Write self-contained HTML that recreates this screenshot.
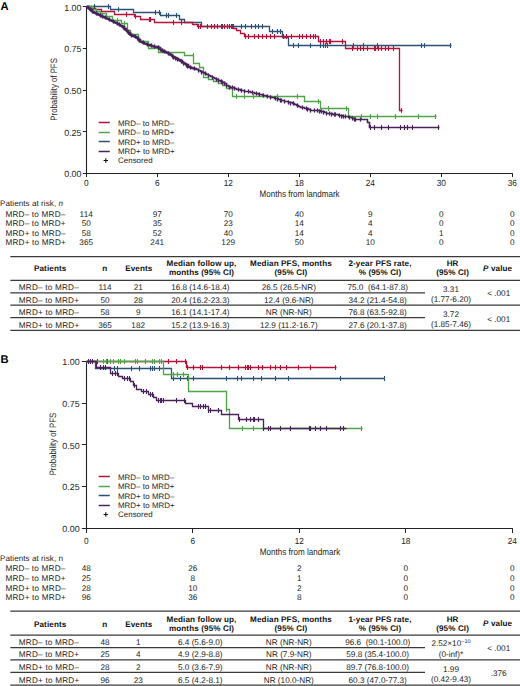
<!DOCTYPE html>
<html><head><meta charset="utf-8"><style>
html,body{margin:0;padding:0;background:#fff;width:520px;height:686px;overflow:hidden}
svg{display:block;text-rendering:geometricPrecision}
text{font-family:"Liberation Sans",sans-serif;fill:#1e1e1e}
.lbl{font-size:11.2px;font-weight:bold;fill:#000}
.tk{font-size:8.9px}
.ax{font-size:9.3px}
.lg{font-size:7.9px;letter-spacing:0.05px}
.rkh{font-size:8.1px;letter-spacing:0.05px}
.rk{font-size:8.2px;letter-spacing:0.2px}
.rkn{font-size:8.2px;letter-spacing:0.1px}
.th{font-size:8.1px;font-weight:bold;letter-spacing:0.12px;fill:#111}
.td{font-size:8.2px;letter-spacing:0.2px}
.tdn{font-size:8.2px;letter-spacing:0px}
</style></head><body>
<svg width="520" height="686" viewBox="0 0 520 686">
<text x="0.6" y="9.6" class="lbl">A</text>
<text x="81.5" y="177.2" class="tk" text-anchor="end">0.00</text><path d="M82.8 173.5H86.5" stroke="#222" stroke-width="1"/><text x="81.5" y="135.5" class="tk" text-anchor="end">0.25</text><path d="M82.8 131.5H86.5" stroke="#222" stroke-width="1"/><text x="81.5" y="93.8" class="tk" text-anchor="end">0.50</text><path d="M82.8 90.5H86.5" stroke="#222" stroke-width="1"/><text x="81.5" y="52.2" class="tk" text-anchor="end">0.75</text><path d="M82.8 48.5H86.5" stroke="#222" stroke-width="1"/><text x="81.5" y="10.5" class="tk" text-anchor="end">1.00</text><path d="M82.8 6.5H86.5" stroke="#222" stroke-width="1"/><path d="M86.5 6.0V174.0" stroke="#222" stroke-width="1.1"/>
<path d="M86 173.5H512.8" stroke="#222" stroke-width="1.1"/><path d="M86.5 173.5V177.1" stroke="#222" stroke-width="1"/><text x="86.3" y="186.3" class="tk" text-anchor="middle" textLength="4.6" lengthAdjust="spacingAndGlyphs">0</text><path d="M157.5 173.5V177.1" stroke="#222" stroke-width="1"/><text x="157.3" y="186.3" class="tk" text-anchor="middle" textLength="4.6" lengthAdjust="spacingAndGlyphs">6</text><path d="M228.5 173.5V177.1" stroke="#222" stroke-width="1"/><text x="228.3" y="186.3" class="tk" text-anchor="middle" textLength="9.2" lengthAdjust="spacingAndGlyphs">12</text><path d="M299.5 173.5V177.1" stroke="#222" stroke-width="1"/><text x="299.3" y="186.3" class="tk" text-anchor="middle" textLength="9.2" lengthAdjust="spacingAndGlyphs">18</text><path d="M370.5 173.5V177.1" stroke="#222" stroke-width="1"/><text x="370.3" y="186.3" class="tk" text-anchor="middle" textLength="9.2" lengthAdjust="spacingAndGlyphs">24</text><path d="M441.5 173.5V177.1" stroke="#222" stroke-width="1"/><text x="441.3" y="186.3" class="tk" text-anchor="middle" textLength="9.2" lengthAdjust="spacingAndGlyphs">30</text><path d="M512.5 173.5V177.1" stroke="#222" stroke-width="1"/><text x="512.3" y="186.3" class="tk" text-anchor="middle" textLength="9.2" lengthAdjust="spacingAndGlyphs">36</text>
<text class="ax" transform="translate(57.2,89.4) rotate(-90)" text-anchor="middle" textLength="62.5" lengthAdjust="spacingAndGlyphs">Probability of PFS</text>
<text class="ax" x="299.6" y="196.5" text-anchor="middle" textLength="80" lengthAdjust="spacingAndGlyphs">Months from landmark</text>
<path d="M98.7 122.5H109.8" stroke="#b3123a" stroke-width="1.5"/><text x="118" y="125.8" class="lg">MRD– to MRD–</text><path d="M98.7 132.5H109.8" stroke="#4ea548" stroke-width="1.5"/><text x="118" y="135.2" class="lg">MRD– to MRD+</text><path d="M98.7 141.5H109.8" stroke="#2b5274" stroke-width="1.5"/><text x="118" y="144.6" class="lg">MRD+ to MRD–</text><path d="M98.7 151.5H109.8" stroke="#48235a" stroke-width="1.5"/><text x="118" y="154.0" class="lg">MRD+ to MRD+</text><path d="M103.6 160.5H108 M105.8 158.3V162.7" stroke="#111" stroke-width="1.1"/><text x="118" y="163.4" class="lg">Censored</text>
<polyline points="86.5,6.5 110.5,6.5 110.5,9.5 133.5,9.5 133.5,12.5 160.5,12.5 160.5,15.5 179.5,15.5 179.5,19.5 184.5,19.5 184.5,22.5 201.5,22.5 201.5,26.5 269.5,26.5 269.5,31.5 282.5,31.5 282.5,37.5 288.5,37.5 288.5,45.5 451.5,45.5 451.5,45.5" fill="none" stroke="#2b5274" stroke-width="1.3"/>
<path d="M94.5 4.1V8.9M108.5 4.1V8.9" stroke="#2b5274" stroke-width="1.1" fill="none"/><path d="M118.5 7.1V11.9" stroke="#2b5274" stroke-width="1.1" fill="none"/><path d="M155.5 10.1V14.9M159.5 10.1V14.9" stroke="#2b5274" stroke-width="1.1" fill="none"/><path d="M166.5 13.1V17.9M168.5 13.1V17.9M176.5 13.1V17.9" stroke="#2b5274" stroke-width="1.1" fill="none"/><path d="M222.5 24.1V28.9M232.5 24.1V28.9" stroke="#2b5274" stroke-width="1.1" fill="none"/><path d="M233.5 24.1V28.9M241.5 24.1V28.9M245.5 24.1V28.9M251.5 24.1V28.9M255.5 24.1V28.9M258.5 24.1V28.9M262.5 24.1V28.9" stroke="#2b5274" stroke-width="1.1" fill="none"/><path d="M272.5 29.1V33.9M277.5 29.1V33.9M280.5 29.1V33.9" stroke="#2b5274" stroke-width="1.1" fill="none"/><path d="M293.5 43.1V47.9M298.5 43.1V47.9M310.5 43.1V47.9M320.5 43.1V47.9M323.5 43.1V47.9M325.5 43.1V47.9M327.5 43.1V47.9M353.5 43.1V47.9M363.5 43.1V47.9M377.5 43.1V47.9M421.5 43.1V47.9M424.5 43.1V47.9M450.5 43.1V47.9" stroke="#2b5274" stroke-width="1.1" fill="none"/>
<polyline points="86.5,6.5 89.5,6.5 89.5,8.5 95.5,8.5 95.5,9.5 101.5,9.5 101.5,11.5 114.5,11.5 114.5,14.5 134.5,14.5 134.5,16.5 140.5,16.5 140.5,19.5 154.5,19.5 154.5,22.5 192.5,22.5 192.5,24.5 197.5,24.5 197.5,26.5 233.5,26.5 233.5,28.5 236.5,28.5 236.5,30.5 240.5,30.5 240.5,33.5 244.5,33.5 244.5,36.5 318.5,36.5 318.5,41.5 345.5,41.5 345.5,48.5 399.5,48.5 399.5,110.5 402.5,110.5 402.5,110.5" fill="none" stroke="#b3123a" stroke-width="1.3"/>
<path d="M126.5 12.1V16.9" stroke="#b3123a" stroke-width="1.1" fill="none"/><path d="M135.5 14.1V18.9" stroke="#b3123a" stroke-width="1.1" fill="none"/><path d="M149.5 17.1V21.9M150.5 17.1V21.9" stroke="#b3123a" stroke-width="1.1" fill="none"/><path d="M173.5 20.1V24.9M181.5 20.1V24.9" stroke="#b3123a" stroke-width="1.1" fill="none"/><path d="M198.5 24.1V28.9M200.5 24.1V28.9M207.5 24.1V28.9M211.5 24.1V28.9M214.5 24.1V28.9M217.5 24.1V28.9M221.5 24.1V28.9M224.5 24.1V28.9M227.5 24.1V28.9M229.5 24.1V28.9M231.5 24.1V28.9" stroke="#b3123a" stroke-width="1.1" fill="none"/><path d="M245.5 34.1V38.9M248.5 34.1V38.9M254.5 34.1V38.9M258.5 34.1V38.9M262.5 34.1V38.9M266.5 34.1V38.9M270.5 34.1V38.9M274.5 34.1V38.9M283.5 34.1V38.9M286.5 34.1V38.9M291.5 34.1V38.9M299.5 34.1V38.9M302.5 34.1V38.9M306.5 34.1V38.9M310.5 34.1V38.9M313.5 34.1V38.9M315.5 34.1V38.9" stroke="#b3123a" stroke-width="1.1" fill="none"/><path d="M320.5 39.1V43.9M323.5 39.1V43.9M326.5 39.1V43.9M329.5 39.1V43.9M330.5 39.1V43.9M342.5 39.1V43.9" stroke="#b3123a" stroke-width="1.1" fill="none"/><path d="M352.5 46.1V50.9M357.5 46.1V50.9M360.5 46.1V50.9M363.5 46.1V50.9M367.5 46.1V50.9M374.5 46.1V50.9M375.5 46.1V50.9M378.5 46.1V50.9M381.5 46.1V50.9M385.5 46.1V50.9M388.5 46.1V50.9M393.5 46.1V50.9" stroke="#b3123a" stroke-width="1.1" fill="none"/><path d="M401.5 108.1V112.9" stroke="#b3123a" stroke-width="1.1" fill="none"/>
<polyline points="86.5,6.5 92.5,6.5 92.5,9.5 96.5,9.5 96.5,11.5 100.5,11.5 100.5,13.5 106.5,13.5 106.5,16.5 112.5,16.5 112.5,20.5 121.5,20.5 121.5,23.5 127.5,23.5 127.5,30.5 130.5,30.5 130.5,34.5 138.5,34.5 138.5,41.5 148.5,41.5 148.5,48.5 158.5,48.5 158.5,52.5 184.5,52.5 184.5,55.5 193.5,55.5 193.5,63.5 199.5,63.5 199.5,67.5 203.5,67.5 203.5,77.5 208.5,77.5 208.5,79.5 213.5,79.5 213.5,81.5 218.5,81.5 218.5,83.5 222.5,83.5 222.5,85.5 226.5,85.5 226.5,88.5 232.5,88.5 232.5,96.5 304.5,96.5 304.5,101.5 320.5,101.5 320.5,108.5 348.5,108.5 348.5,116.5 436.5,116.5 436.5,116.5" fill="none" stroke="#4ea548" stroke-width="1.3"/>
<path d="M117.5 18.1V22.9" stroke="#4ea548" stroke-width="1.1" fill="none"/><path d="M124.5 21.1V25.9" stroke="#4ea548" stroke-width="1.1" fill="none"/><path d="M193.5 53.1V57.9" stroke="#4ea548" stroke-width="1.1" fill="none"/><path d="M236.5 94.1V98.9M244.5 94.1V98.9M253.5 94.1V98.9M277.5 94.1V98.9M297.5 94.1V98.9" stroke="#4ea548" stroke-width="1.1" fill="none"/><path d="M318.5 99.1V103.9" stroke="#4ea548" stroke-width="1.1" fill="none"/><path d="M328.5 106.1V110.9M346.5 106.1V110.9" stroke="#4ea548" stroke-width="1.1" fill="none"/><path d="M361.5 114.1V118.9M370.5 114.1V118.9M377.5 114.1V118.9M395.5 114.1V118.9M418.5 114.1V118.9M435.5 114.1V118.9" stroke="#4ea548" stroke-width="1.1" fill="none"/>
<polyline points="86.5,6.5 88.5,6.5 88.5,8.5 90.5,8.5 90.5,9.5 92.5,9.5 92.5,11.5 94.5,11.5 94.5,12.5 96.5,12.5 96.5,13.5 98.5,13.5 98.5,14.5 100.5,14.5 100.5,15.5 102.5,15.5 102.5,16.5 104.5,16.5 104.5,17.5 106.5,17.5 106.5,18.5 108.5,18.5 108.5,19.5 110.5,19.5 110.5,20.5 112.5,20.5 112.5,21.5 114.5,21.5 114.5,22.5 116.5,22.5 116.5,23.5 118.5,23.5 118.5,24.5 120.5,24.5 120.5,25.5 122.5,25.5 122.5,26.5 124.5,26.5 124.5,28.5 126.5,28.5 126.5,30.5 128.5,30.5 128.5,32.5 130.5,32.5 130.5,34.5 132.5,34.5 132.5,35.5 134.5,35.5 134.5,36.5 136.5,36.5 136.5,37.5 138.5,37.5 138.5,39.5 140.5,39.5 140.5,41.5 142.5,41.5 142.5,42.5 144.5,42.5 144.5,43.5 146.5,43.5 146.5,44.5 148.5,44.5 148.5,44.5 150.5,44.5 150.5,45.5 152.5,45.5 152.5,46.5 154.5,46.5 154.5,46.5 156.5,46.5 156.5,46.5 158.5,46.5 158.5,47.5 160.5,47.5 160.5,49.5 162.5,49.5 162.5,50.5 164.5,50.5 164.5,51.5 166.5,51.5 166.5,52.5 168.5,52.5 168.5,53.5 170.5,53.5 170.5,54.5 172.5,54.5 172.5,56.5 174.5,56.5 174.5,57.5 176.5,57.5 176.5,58.5 178.5,58.5 178.5,59.5 180.5,59.5 180.5,60.5 182.5,60.5 182.5,62.5 184.5,62.5 184.5,63.5 186.5,63.5 186.5,64.5 188.5,64.5 188.5,66.5 190.5,66.5 190.5,67.5 192.5,67.5 192.5,68.5 194.5,68.5 194.5,68.5 196.5,68.5 196.5,69.5 198.5,69.5 198.5,70.5 200.5,70.5 200.5,71.5 202.5,71.5 202.5,72.5 204.5,72.5 204.5,73.5 206.5,73.5 206.5,74.5 208.5,74.5 208.5,75.5 210.5,75.5 210.5,76.5 212.5,76.5 212.5,77.5 214.5,77.5 214.5,78.5 216.5,78.5 216.5,79.5 218.5,79.5 218.5,80.5 220.5,80.5 220.5,81.5 222.5,81.5 222.5,82.5 224.5,82.5 224.5,83.5 226.5,83.5 226.5,85.5 228.5,85.5 228.5,86.5 230.5,86.5 230.5,87.5 232.5,87.5 232.5,87.5 234.5,87.5 234.5,88.5 236.5,88.5 236.5,89.5 238.5,89.5 238.5,89.5 240.5,89.5 240.5,90.5 242.5,90.5 242.5,90.5 244.5,90.5 244.5,91.5 246.5,91.5 246.5,91.5 248.5,91.5 248.5,91.5 250.5,91.5 250.5,92.5 252.5,92.5 252.5,92.5 254.5,92.5 254.5,93.5 256.5,93.5 256.5,93.5 258.5,93.5 258.5,94.5 260.5,94.5 260.5,94.5 262.5,94.5 262.5,95.5 264.5,95.5 264.5,95.5 266.5,95.5 266.5,96.5 268.5,96.5 268.5,96.5 270.5,96.5 270.5,97.5 272.5,97.5 272.5,97.5 274.5,97.5 274.5,98.5 276.5,98.5 276.5,98.5 278.5,98.5 278.5,99.5 280.5,99.5 280.5,100.5 282.5,100.5 282.5,100.5 284.5,100.5 284.5,101.5 286.5,101.5 286.5,101.5 288.5,101.5 288.5,102.5 290.5,102.5 290.5,102.5 292.5,102.5 292.5,103.5 294.5,103.5 294.5,104.5 296.5,104.5 296.5,105.5 298.5,105.5 298.5,106.5 300.5,106.5 300.5,107.5 302.5,107.5 302.5,107.5 304.5,107.5 304.5,108.5 306.5,108.5 306.5,108.5 308.5,108.5 308.5,109.5 310.5,109.5 310.5,110.5 312.5,110.5 312.5,110.5 314.5,110.5 314.5,110.5 316.5,110.5 316.5,110.5 318.5,110.5 318.5,110.5 320.5,110.5 320.5,111.5 322.5,111.5 322.5,111.5 324.5,111.5 324.5,112.5 326.5,112.5 326.5,113.5 328.5,113.5 328.5,113.5 330.5,113.5 330.5,113.5 332.5,113.5 332.5,114.5 334.5,114.5 334.5,114.5 336.5,114.5 336.5,114.5 338.5,114.5 338.5,115.5 340.5,115.5 340.5,115.5 342.5,115.5 342.5,116.5 344.5,116.5 344.5,116.5 346.5,116.5 346.5,116.5 348.5,116.5 348.5,117.5 350.5,117.5 350.5,117.5 352.5,117.5 352.5,118.5 354.5,118.5 354.5,119.5 354.5,119.5 354.5,119.5 367.5,119.5 367.5,122.5 369.5,122.5 369.5,127.5 439.5,127.5" fill="none" stroke="#48235a" stroke-width="1.6"/>
<polyline points="86.3,6.9 88.0,8.0 93.2,12.3 100.0,15.5 107.0,18.5 113.0,21.5 119.4,24.6 125.0,29.0 130.0,34.7 136.9,37.7 141.5,42.3 147.3,44.6 153.0,46.3 158.8,47.5 161.2,50.4 167.0,52.7 171.5,55.6 176.2,58.5 181.9,61.9 185.4,64.2 188.5,66.9 196.2,69.2" fill="none" stroke="#48235a" stroke-width="2.2" stroke-linejoin="round"/>
<path d="M90.5 7.4V11.6" stroke="#48235a" stroke-width="1.3" fill="none"/><path d="M92.5 9.4V13.6" stroke="#48235a" stroke-width="1.3" fill="none"/><path d="M96.5 11.4V15.6" stroke="#48235a" stroke-width="1.3" fill="none"/><path d="M100.5 13.4V17.6" stroke="#48235a" stroke-width="1.3" fill="none"/><path d="M102.5 14.4V18.6" stroke="#48235a" stroke-width="1.3" fill="none"/><path d="M105.5 15.4V19.6" stroke="#48235a" stroke-width="1.3" fill="none"/><path d="M109.5 17.4V21.6" stroke="#48235a" stroke-width="1.3" fill="none"/><path d="M113.5 19.4V23.6" stroke="#48235a" stroke-width="1.3" fill="none"/><path d="M117.5 21.4V25.6" stroke="#48235a" stroke-width="1.3" fill="none"/><path d="M119.5 22.4V26.6" stroke="#48235a" stroke-width="1.3" fill="none"/><path d="M123.5 25.4V29.6" stroke="#48235a" stroke-width="1.3" fill="none"/><path d="M124.5 26.4V30.6" stroke="#48235a" stroke-width="1.3" fill="none"/><path d="M128.5 30.4V34.6" stroke="#48235a" stroke-width="1.3" fill="none"/><path d="M131.5 33.4V37.6" stroke="#48235a" stroke-width="1.3" fill="none"/><path d="M135.5 34.4V38.6" stroke="#48235a" stroke-width="1.3" fill="none"/><path d="M137.5 36.4V40.6" stroke="#48235a" stroke-width="1.3" fill="none"/><path d="M139.5 38.4V42.6" stroke="#48235a" stroke-width="1.3" fill="none"/><path d="M143.5 40.4V44.6" stroke="#48235a" stroke-width="1.3" fill="none"/><path d="M147.5 42.4V46.6" stroke="#48235a" stroke-width="1.3" fill="none"/><path d="M151.5 43.4V47.6" stroke="#48235a" stroke-width="1.3" fill="none"/><path d="M154.5 44.4V48.6" stroke="#48235a" stroke-width="1.3" fill="none"/><path d="M158.5 45.4V49.6" stroke="#48235a" stroke-width="1.3" fill="none"/><path d="M160.5 47.4V51.6" stroke="#48235a" stroke-width="1.3" fill="none"/><path d="M162.5 48.4V52.6" stroke="#48235a" stroke-width="1.3" fill="none"/><path d="M164.5 49.4V53.6" stroke="#48235a" stroke-width="1.3" fill="none"/><path d="M168.5 51.4V55.6" stroke="#48235a" stroke-width="1.3" fill="none"/><path d="M172.5 54.4V58.6" stroke="#48235a" stroke-width="1.3" fill="none"/><path d="M173.5 55.4V59.6" stroke="#48235a" stroke-width="1.3" fill="none"/><path d="M175.5 56.4V60.6" stroke="#48235a" stroke-width="1.3" fill="none"/><path d="M177.5 57.4V61.6" stroke="#48235a" stroke-width="1.3" fill="none"/><path d="M181.5 59.4V63.6" stroke="#48235a" stroke-width="1.3" fill="none"/><path d="M183.5 61.4V65.6" stroke="#48235a" stroke-width="1.3" fill="none"/><path d="M186.5 63.4V67.6" stroke="#48235a" stroke-width="1.3" fill="none"/><path d="M187.5 64.4V68.6" stroke="#48235a" stroke-width="1.3" fill="none"/><path d="M190.5 65.4V69.6" stroke="#48235a" stroke-width="1.3" fill="none"/><path d="M194.5 66.4V70.6" stroke="#48235a" stroke-width="1.3" fill="none"/><path d="M198.5 68.4V72.6" stroke="#48235a" stroke-width="1.3" fill="none"/><path d="M201.5 70.4V74.6" stroke="#48235a" stroke-width="1.3" fill="none"/><path d="M205.5 71.4V75.6" stroke="#48235a" stroke-width="1.3" fill="none"/><path d="M208.5 73.4V77.6" stroke="#48235a" stroke-width="1.3" fill="none"/><path d="M212.5 75.4V79.6" stroke="#48235a" stroke-width="1.3" fill="none"/><path d="M216.5 77.4V81.6" stroke="#48235a" stroke-width="1.3" fill="none"/><path d="M218.5 78.4V82.6" stroke="#48235a" stroke-width="1.3" fill="none"/><path d="M221.5 79.4V83.6" stroke="#48235a" stroke-width="1.3" fill="none"/><path d="M222.5 80.4V84.6" stroke="#48235a" stroke-width="1.3" fill="none"/><path d="M224.5 81.4V85.6" stroke="#48235a" stroke-width="1.3" fill="none"/><path d="M226.5 83.4V87.6" stroke="#48235a" stroke-width="1.3" fill="none"/><path d="M229.5 85.4V89.6" stroke="#48235a" stroke-width="1.3" fill="none"/><path d="M232.5 85.4V89.6" stroke="#48235a" stroke-width="1.3" fill="none"/><path d="M234.5 86.4V90.6" stroke="#48235a" stroke-width="1.3" fill="none"/><path d="M238.5 87.4V91.6" stroke="#48235a" stroke-width="1.3" fill="none"/><path d="M241.5 88.4V92.6" stroke="#48235a" stroke-width="1.3" fill="none"/><path d="M244.5 89.4V93.6" stroke="#48235a" stroke-width="1.3" fill="none"/><path d="M248.5 89.4V93.6" stroke="#48235a" stroke-width="1.3" fill="none"/><path d="M252.5 90.4V94.6" stroke="#48235a" stroke-width="1.3" fill="none"/><path d="M256.5 91.4V95.6" stroke="#48235a" stroke-width="1.3" fill="none"/><path d="M259.5 92.4V96.6" stroke="#48235a" stroke-width="1.3" fill="none"/><path d="M263.5 93.4V97.6" stroke="#48235a" stroke-width="1.3" fill="none"/><path d="M267.5 94.4V98.6" stroke="#48235a" stroke-width="1.3" fill="none"/><path d="M270.5 95.4V99.6" stroke="#48235a" stroke-width="1.3" fill="none"/><path d="M275.5 96.4V100.6" stroke="#48235a" stroke-width="1.3" fill="none"/><path d="M277.5 97.4V101.6" stroke="#48235a" stroke-width="1.3" fill="none"/><path d="M280.5 98.4V102.6" stroke="#48235a" stroke-width="1.3" fill="none"/><path d="M281.5 98.4V102.6" stroke="#48235a" stroke-width="1.3" fill="none"/><path d="M284.5 99.4V103.6" stroke="#48235a" stroke-width="1.3" fill="none"/><path d="M288.5 100.4V104.6" stroke="#48235a" stroke-width="1.3" fill="none"/><path d="M290.5 101.4V105.6" stroke="#48235a" stroke-width="1.3" fill="none"/><path d="M293.5 101.4V105.6" stroke="#48235a" stroke-width="1.3" fill="none"/><path d="M297.5 103.4V107.6" stroke="#48235a" stroke-width="1.3" fill="none"/><path d="M302.5 105.4V109.6" stroke="#48235a" stroke-width="1.3" fill="none"/><path d="M306.5 106.4V110.6" stroke="#48235a" stroke-width="1.3" fill="none"/><path d="M307.5 107.4V111.6" stroke="#48235a" stroke-width="1.3" fill="none"/><path d="M310.5 108.4V112.6" stroke="#48235a" stroke-width="1.3" fill="none"/><path d="M314.5 108.4V112.6" stroke="#48235a" stroke-width="1.3" fill="none"/><path d="M317.5 108.4V112.6" stroke="#48235a" stroke-width="1.3" fill="none"/><path d="M319.5 109.4V113.6" stroke="#48235a" stroke-width="1.3" fill="none"/><path d="M321.5 109.4V113.6" stroke="#48235a" stroke-width="1.3" fill="none"/><path d="M323.5 110.4V114.6" stroke="#48235a" stroke-width="1.3" fill="none"/><path d="M326.5 111.4V115.6" stroke="#48235a" stroke-width="1.3" fill="none"/><path d="M329.5 111.4V115.6" stroke="#48235a" stroke-width="1.3" fill="none"/><path d="M331.5 112.4V116.6" stroke="#48235a" stroke-width="1.3" fill="none"/><path d="M334.5 112.4V116.6" stroke="#48235a" stroke-width="1.3" fill="none"/><path d="M335.5 112.4V116.6" stroke="#48235a" stroke-width="1.3" fill="none"/><path d="M339.5 113.4V117.6" stroke="#48235a" stroke-width="1.3" fill="none"/><path d="M341.5 114.4V118.6" stroke="#48235a" stroke-width="1.3" fill="none"/><path d="M343.5 114.4V118.6" stroke="#48235a" stroke-width="1.3" fill="none"/><path d="M345.5 114.4V118.6" stroke="#48235a" stroke-width="1.3" fill="none"/><path d="M349.5 115.4V119.6" stroke="#48235a" stroke-width="1.3" fill="none"/><path d="M352.5 116.4V120.6" stroke="#48235a" stroke-width="1.3" fill="none"/><path d="M354.5 117.4V121.6" stroke="#48235a" stroke-width="1.3" fill="none"/><path d="M355.5 117.4V121.6" stroke="#48235a" stroke-width="1.3" fill="none"/><path d="M360.5 117.4V121.6" stroke="#48235a" stroke-width="1.3" fill="none"/>
<path d="M370.5 125.1V129.9M374.5 125.1V129.9M381.5 125.1V129.9M388.5 125.1V129.9M400.5 125.1V129.9M404.5 125.1V129.9M407.5 125.1V129.9M412.5 125.1V129.9M438.5 125.1V129.9" stroke="#48235a" stroke-width="1.1" fill="none"/>
<text x="0" y="206.1" class="rkh">Patients at risk, <tspan font-style="italic">n</tspan></text><text x="5.4" y="216.5" class="rk">MRD– to MRD–</text><text x="86.3" y="216.5" class="rkn" text-anchor="middle">114</text><text x="157.3" y="216.5" class="rkn" text-anchor="middle">97</text><text x="228.3" y="216.5" class="rkn" text-anchor="middle">70</text><text x="299.3" y="216.5" class="rkn" text-anchor="middle">40</text><text x="370.3" y="216.5" class="rkn" text-anchor="middle">9</text><text x="441.3" y="216.5" class="rkn" text-anchor="middle">0</text><text x="512.3" y="216.5" class="rkn" text-anchor="middle">0</text><text x="5.4" y="226.2" class="rk">MRD– to MRD+</text><text x="86.3" y="226.2" class="rkn" text-anchor="middle">50</text><text x="157.3" y="226.2" class="rkn" text-anchor="middle">35</text><text x="228.3" y="226.2" class="rkn" text-anchor="middle">23</text><text x="299.3" y="226.2" class="rkn" text-anchor="middle">14</text><text x="370.3" y="226.2" class="rkn" text-anchor="middle">4</text><text x="441.3" y="226.2" class="rkn" text-anchor="middle">0</text><text x="512.3" y="226.2" class="rkn" text-anchor="middle">0</text><text x="5.4" y="235.8" class="rk">MRD+ to MRD–</text><text x="86.3" y="235.8" class="rkn" text-anchor="middle">58</text><text x="157.3" y="235.8" class="rkn" text-anchor="middle">52</text><text x="228.3" y="235.8" class="rkn" text-anchor="middle">40</text><text x="299.3" y="235.8" class="rkn" text-anchor="middle">14</text><text x="370.3" y="235.8" class="rkn" text-anchor="middle">4</text><text x="441.3" y="235.8" class="rkn" text-anchor="middle">1</text><text x="512.3" y="235.8" class="rkn" text-anchor="middle">0</text><text x="5.4" y="245.4" class="rk">MRD+ to MRD+</text><text x="86.3" y="245.4" class="rkn" text-anchor="middle">365</text><text x="157.3" y="245.4" class="rkn" text-anchor="middle">241</text><text x="228.3" y="245.4" class="rkn" text-anchor="middle">129</text><text x="299.3" y="245.4" class="rkn" text-anchor="middle">50</text><text x="370.3" y="245.4" class="rkn" text-anchor="middle">10</text><text x="441.3" y="245.4" class="rkn" text-anchor="middle">0</text><text x="512.3" y="245.4" class="rkn" text-anchor="middle">0</text>
<path d="M10.3 256.5H520" stroke="#3a3a3a" stroke-width="1.25"/><path d="M10.3 280.3H520" stroke="#3a3a3a" stroke-width="1.25"/><path d="M10.3 292.8H425" stroke="#3a3a3a" stroke-width="1.25"/><path d="M10.3 305.2H520" stroke="#3a3a3a" stroke-width="1.25"/><path d="M10.3 317.7H425" stroke="#3a3a3a" stroke-width="1.25"/><path d="M10.3 330.4H520" stroke="#3a3a3a" stroke-width="1.25"/><text x="50.2" y="270.9" class="th" text-anchor="middle">Patients</text><text x="104.9" y="270.9" class="th" text-anchor="middle">n</text><text x="138.8" y="270.9" class="th" text-anchor="middle">Events</text><text x="201.5" y="266.0" class="th" text-anchor="middle">Median follow up,</text><text x="201.5" y="275.3" class="th" text-anchor="middle">months (95% CI)</text><text x="291" y="266.0" class="th" text-anchor="middle">Median PFS, months</text><text x="291" y="275.3" class="th" text-anchor="middle">(95% CI)</text><text x="380" y="266.0" class="th" text-anchor="middle">2-year PFS rate,</text><text x="380" y="275.3" class="th" text-anchor="middle">% (95% CI)</text><text x="452.6" y="266.0" class="th" text-anchor="middle">HR</text><text x="452.6" y="275.3" class="th" text-anchor="middle">(95% CI)</text><text x="497.6" y="270.6" class="th" text-anchor="middle"><tspan font-style="italic">P</tspan> value</text><text x="18.8" y="290.0" class="td">MRD– to MRD–</text><text x="105" y="290.0" class="tdn" text-anchor="middle">114</text><text x="138.2" y="290.0" class="tdn" text-anchor="middle">21</text><text x="200.3" y="290.0" class="tdn" text-anchor="middle">16.8 (14.6-18.4)</text><text x="288.8" y="290.0" class="tdn" text-anchor="middle">26.5 (26.5-NR)</text><text x="377.7" y="290.0" class="tdn" text-anchor="middle">75.0&#160; (64.1-87.8)</text><text x="18.8" y="302.7" class="td">MRD– to MRD+</text><text x="105" y="302.7" class="tdn" text-anchor="middle">50</text><text x="138.2" y="302.7" class="tdn" text-anchor="middle">28</text><text x="200.3" y="302.7" class="tdn" text-anchor="middle">20.4 (16.2-23.3)</text><text x="288.8" y="302.7" class="tdn" text-anchor="middle">12.4 (9.6-NR)</text><text x="377.7" y="302.7" class="tdn" text-anchor="middle">34.2 (21.4-54.8)</text><text x="18.8" y="315.4" class="td">MRD+ to MRD–</text><text x="105" y="315.4" class="tdn" text-anchor="middle">58</text><text x="138.2" y="315.4" class="tdn" text-anchor="middle">9</text><text x="200.3" y="315.4" class="tdn" text-anchor="middle">16.1 (14.1-17.4)</text><text x="288.8" y="315.4" class="tdn" text-anchor="middle">NR (NR-NR)</text><text x="377.7" y="315.4" class="tdn" text-anchor="middle">76.8 (63.5-92.8)</text><text x="18.8" y="328.1" class="td">MRD+ to MRD+</text><text x="105" y="328.1" class="tdn" text-anchor="middle">365</text><text x="138.2" y="328.1" class="tdn" text-anchor="middle">182</text><text x="200.3" y="328.1" class="tdn" text-anchor="middle">15.2 (13.9-16.3)</text><text x="288.8" y="328.1" class="tdn" text-anchor="middle">12.9 (11.2-16.7)</text><text x="377.7" y="328.1" class="tdn" text-anchor="middle">27.6 (20.1-37.8)</text><text x="451" y="291.7" class="tdn" text-anchor="middle">3.31</text><text x="451" y="301.9" class="tdn" text-anchor="middle">(1.77-6.20)</text><text x="451" y="317.1" class="tdn" text-anchor="middle">3.72</text><text x="451" y="327.3" class="tdn" text-anchor="middle">(1.85-7.46)</text><text x="498.7" y="296.1" class="tdn" text-anchor="middle">&lt; .001</text><text x="498.7" y="321.5" class="tdn" text-anchor="middle">&lt; .001</text>
<text x="0.6" y="362.7" class="lbl">B</text>
<text x="79.6" y="531.9" class="tk" text-anchor="end">0.00</text><path d="M81.8 528.5H86.5" stroke="#222" stroke-width="1"/><text x="79.6" y="490.2" class="tk" text-anchor="end">0.25</text><path d="M81.8 486.5H86.5" stroke="#222" stroke-width="1"/><text x="79.6" y="448.5" class="tk" text-anchor="end">0.50</text><path d="M81.8 444.5H86.5" stroke="#222" stroke-width="1"/><text x="79.6" y="406.9" class="tk" text-anchor="end">0.75</text><path d="M81.8 403.5H86.5" stroke="#222" stroke-width="1"/><text x="79.6" y="365.2" class="tk" text-anchor="end">1.00</text><path d="M81.8 361.5H86.5" stroke="#222" stroke-width="1"/><path d="M86.5 361.0V529.0" stroke="#222" stroke-width="1.1"/>
<path d="M86 528.5H512.8" stroke="#222" stroke-width="1.1"/><path d="M86.5 528.5V533.0" stroke="#222" stroke-width="1"/><text x="86.3" y="543.5" class="tk" text-anchor="middle" textLength="4.6" lengthAdjust="spacingAndGlyphs">0</text><path d="M192.5 528.5V533.0" stroke="#222" stroke-width="1"/><text x="192.8" y="543.5" class="tk" text-anchor="middle" textLength="4.6" lengthAdjust="spacingAndGlyphs">6</text><path d="M299.5 528.5V533.0" stroke="#222" stroke-width="1"/><text x="299.3" y="543.5" class="tk" text-anchor="middle" textLength="9.2" lengthAdjust="spacingAndGlyphs">12</text><path d="M405.5 528.5V533.0" stroke="#222" stroke-width="1"/><text x="405.8" y="543.5" class="tk" text-anchor="middle" textLength="9.2" lengthAdjust="spacingAndGlyphs">18</text><path d="M512.5 528.5V533.0" stroke="#222" stroke-width="1"/><text x="512.3" y="543.5" class="tk" text-anchor="middle" textLength="9.2" lengthAdjust="spacingAndGlyphs">24</text>
<text class="ax" transform="translate(56.2,444.1) rotate(-90)" text-anchor="middle" textLength="62.5" lengthAdjust="spacingAndGlyphs">Probability of PFS</text>
<text class="ax" x="300" y="554.6" text-anchor="middle" textLength="80.5" lengthAdjust="spacingAndGlyphs">Months from landmark</text>
<path d="M98.7 476.5H109.8" stroke="#b3123a" stroke-width="1.5"/><text x="118" y="479.8" class="lg">MRD– to MRD–</text><path d="M98.7 486.5H109.8" stroke="#4ea548" stroke-width="1.5"/><text x="118" y="489.2" class="lg">MRD– to MRD+</text><path d="M98.7 495.5H109.8" stroke="#2b5274" stroke-width="1.5"/><text x="118" y="498.6" class="lg">MRD+ to MRD–</text><path d="M98.7 505.5H109.8" stroke="#48235a" stroke-width="1.5"/><text x="118" y="508.0" class="lg">MRD+ to MRD+</text><path d="M103.6 514.5H108 M105.8 512.3V516.7" stroke="#111" stroke-width="1.1"/><text x="118" y="517.4" class="lg">Censored</text>
<polyline points="86.5,361.5 95.5,361.5 95.5,368.5 171.5,368.5 171.5,378.5 384.5,378.5 384.5,378.5" fill="none" stroke="#2b5274" stroke-width="1.3"/>
<path d="M114.5 366.1V370.9M117.5 366.1V370.9M131.5 366.1V370.9M139.5 366.1V370.9M150.5 366.1V370.9M152.5 366.1V370.9M154.5 366.1V370.9M159.5 366.1V370.9" stroke="#2b5274" stroke-width="1.1" fill="none"/><path d="M173.5 376.1V380.9M180.5 376.1V380.9M187.5 376.1V380.9M193.5 376.1V380.9M226.5 376.1V380.9M237.5 376.1V380.9M241.5 376.1V380.9M253.5 376.1V380.9M261.5 376.1V380.9M275.5 376.1V380.9M288.5 376.1V380.9M340.5 376.1V380.9M384.5 376.1V380.9" stroke="#2b5274" stroke-width="1.1" fill="none"/>
<polyline points="86.5,361.5 186.5,361.5 186.5,367.5 336.5,367.5 336.5,367.5" fill="none" stroke="#b3123a" stroke-width="1.3"/>
<path d="M97.5 359.1V363.9M107.5 359.1V363.9M120.5 359.1V363.9M145.5 359.1V363.9M168.5 359.1V363.9M176.5 359.1V363.9M185.5 359.1V363.9" stroke="#b3123a" stroke-width="1.1" fill="none"/><path d="M187.5 365.1V369.9M193.5 365.1V369.9M200.5 365.1V369.9M202.5 365.1V369.9M221.5 365.1V369.9M229.5 365.1V369.9M238.5 365.1V369.9M245.5 365.1V369.9M247.5 365.1V369.9M248.5 365.1V369.9M250.5 365.1V369.9M258.5 365.1V369.9M258.5 365.1V369.9M262.5 365.1V369.9M270.5 365.1V369.9M275.5 365.1V369.9M280.5 365.1V369.9M286.5 365.1V369.9M298.5 365.1V369.9M310.5 365.1V369.9M335.5 365.1V369.9" stroke="#b3123a" stroke-width="1.1" fill="none"/>
<polyline points="86.5,361.5 163.5,361.5 163.5,374.5 188.5,374.5 188.5,391.5 226.5,391.5 226.5,409.5 229.5,409.5 229.5,428.5 362.5,428.5 362.5,428.5" fill="none" stroke="#4ea548" stroke-width="1.3"/>
<path d="M103.5 359.1V363.9M106.5 359.1V363.9M110.5 359.1V363.9M113.5 359.1V363.9M118.5 359.1V363.9M120.5 359.1V363.9M124.5 359.1V363.9M135.5 359.1V363.9M137.5 359.1V363.9M145.5 359.1V363.9M152.5 359.1V363.9M154.5 359.1V363.9M159.5 359.1V363.9M161.5 359.1V363.9" stroke="#4ea548" stroke-width="1.1" fill="none"/><path d="M173.5 372.1V376.9M177.5 372.1V376.9M183.5 372.1V376.9" stroke="#4ea548" stroke-width="1.1" fill="none"/><path d="M226.5 407.1V411.9" stroke="#4ea548" stroke-width="1.1" fill="none"/><path d="M242.5 426.1V430.9M253.5 426.1V430.9M263.5 426.1V430.9M361.5 426.1V430.9" stroke="#4ea548" stroke-width="1.1" fill="none"/>
<polyline points="86.5,361.5 96.5,361.5 96.5,367.5 110.5,367.5 110.5,373.5 118.5,373.5 118.5,376.5 122.5,376.5 122.5,378.5 130.5,378.5 130.5,381.5 133.5,381.5 133.5,385.5 136.5,385.5 136.5,389.5 141.5,389.5 141.5,391.5 148.5,391.5 148.5,394.5 153.5,394.5 153.5,397.5 156.5,397.5 156.5,400.5 185.5,400.5 185.5,403.5 192.5,403.5 192.5,406.5 208.5,406.5 208.5,410.5 221.5,410.5 221.5,414.5 238.5,414.5 238.5,419.5 263.5,419.5 263.5,428.5 346.5,428.5 346.5,428.5" fill="none" stroke="#48235a" stroke-width="1.3"/>
<path d="M88.5 359.1V363.9M90.5 359.1V363.9M92.5 359.1V363.9" stroke="#48235a" stroke-width="1.1" fill="none"/><path d="M100.5 365.1V369.9M103.5 365.1V369.9M105.5 365.1V369.9" stroke="#48235a" stroke-width="1.1" fill="none"/><path d="M112.5 371.1V375.9M115.5 371.1V375.9M117.5 371.1V375.9" stroke="#48235a" stroke-width="1.1" fill="none"/><path d="M124.5 376.1V380.9M127.5 376.1V380.9M129.5 376.1V380.9" stroke="#48235a" stroke-width="1.1" fill="none"/><path d="M134.5 383.1V387.9" stroke="#48235a" stroke-width="1.1" fill="none"/><path d="M143.5 389.1V393.9M146.5 389.1V393.9" stroke="#48235a" stroke-width="1.1" fill="none"/><path d="M150.5 392.1V396.9M152.5 392.1V396.9" stroke="#48235a" stroke-width="1.1" fill="none"/><path d="M158.5 398.1V402.9M160.5 398.1V402.9M161.5 398.1V402.9M163.5 398.1V402.9M176.5 398.1V402.9M184.5 398.1V402.9" stroke="#48235a" stroke-width="1.1" fill="none"/><path d="M198.5 404.1V408.9M200.5 404.1V408.9M203.5 404.1V408.9M205.5 404.1V408.9" stroke="#48235a" stroke-width="1.1" fill="none"/><path d="M208.5 408.1V412.9M210.5 408.1V412.9M218.5 408.1V412.9" stroke="#48235a" stroke-width="1.1" fill="none"/><path d="M239.5 417.1V421.9M246.5 417.1V421.9M250.5 417.1V421.9M253.5 417.1V421.9M254.5 417.1V421.9M258.5 417.1V421.9" stroke="#48235a" stroke-width="1.1" fill="none"/><path d="M263.5 426.1V430.9M268.5 426.1V430.9M270.5 426.1V430.9M280.5 426.1V430.9M290.5 426.1V430.9M309.5 426.1V430.9M310.5 426.1V430.9M315.5 426.1V430.9M320.5 426.1V430.9M326.5 426.1V430.9M340.5 426.1V430.9M343.5 426.1V430.9" stroke="#48235a" stroke-width="1.1" fill="none"/>
<text x="0" y="560.8" class="rkh">Patients at risk, n</text><text x="5.4" y="571.2" class="rk">MRD– to MRD–</text><text x="86.3" y="571.2" class="rkn" text-anchor="middle">48</text><text x="192.8" y="571.2" class="rkn" text-anchor="middle">26</text><text x="299.3" y="571.2" class="rkn" text-anchor="middle">2</text><text x="405.8" y="571.2" class="rkn" text-anchor="middle">0</text><text x="512.3" y="571.2" class="rkn" text-anchor="middle">0</text><text x="5.4" y="580.8" class="rk">MRD– to MRD+</text><text x="86.3" y="580.8" class="rkn" text-anchor="middle">25</text><text x="192.8" y="580.8" class="rkn" text-anchor="middle">8</text><text x="299.3" y="580.8" class="rkn" text-anchor="middle">1</text><text x="405.8" y="580.8" class="rkn" text-anchor="middle">0</text><text x="512.3" y="580.8" class="rkn" text-anchor="middle">0</text><text x="5.4" y="590.5" class="rk">MRD+ to MRD–</text><text x="86.3" y="590.5" class="rkn" text-anchor="middle">28</text><text x="192.8" y="590.5" class="rkn" text-anchor="middle">10</text><text x="299.3" y="590.5" class="rkn" text-anchor="middle">2</text><text x="405.8" y="590.5" class="rkn" text-anchor="middle">0</text><text x="512.3" y="590.5" class="rkn" text-anchor="middle">0</text><text x="5.4" y="600.1" class="rk">MRD+ to MRD+</text><text x="86.3" y="600.1" class="rkn" text-anchor="middle">96</text><text x="192.8" y="600.1" class="rkn" text-anchor="middle">36</text><text x="299.3" y="600.1" class="rkn" text-anchor="middle">8</text><text x="405.8" y="600.1" class="rkn" text-anchor="middle">0</text><text x="512.3" y="600.1" class="rkn" text-anchor="middle">0</text>
<path d="M10.3 611.2H520" stroke="#3a3a3a" stroke-width="1.25"/><path d="M10.3 635.0H520" stroke="#3a3a3a" stroke-width="1.25"/><path d="M10.3 647.5H425" stroke="#3a3a3a" stroke-width="1.25"/><path d="M10.3 659.9H520" stroke="#3a3a3a" stroke-width="1.25"/><path d="M10.3 672.4H425" stroke="#3a3a3a" stroke-width="1.25"/><path d="M10.3 685.1H520" stroke="#3a3a3a" stroke-width="1.25"/><text x="50.2" y="626.6" class="th" text-anchor="middle">Patients</text><text x="104.9" y="626.6" class="th" text-anchor="middle">n</text><text x="138.8" y="626.6" class="th" text-anchor="middle">Events</text><text x="201.5" y="621.7" class="th" text-anchor="middle">Median follow up,</text><text x="201.5" y="631.0" class="th" text-anchor="middle">months (95% CI)</text><text x="291" y="621.7" class="th" text-anchor="middle">Median PFS, months</text><text x="291" y="631.0" class="th" text-anchor="middle">(95% CI)</text><text x="380" y="621.7" class="th" text-anchor="middle">1-year PFS rate,</text><text x="380" y="631.0" class="th" text-anchor="middle">% (95% CI)</text><text x="452.6" y="621.7" class="th" text-anchor="middle">HR</text><text x="452.6" y="631.0" class="th" text-anchor="middle">(95% CI)</text><text x="497.6" y="626.3" class="th" text-anchor="middle"><tspan font-style="italic">P</tspan> value</text><text x="18.8" y="644.7" class="td">MRD– to MRD–</text><text x="105" y="644.7" class="tdn" text-anchor="middle">48</text><text x="138.2" y="644.7" class="tdn" text-anchor="middle">1</text><text x="200.3" y="644.7" class="tdn" text-anchor="middle">6.4 (5.6-9.0)</text><text x="288.8" y="644.7" class="tdn" text-anchor="middle">NR (NR-NR)</text><text x="377.7" y="644.7" class="tdn" text-anchor="middle">96.6&#160; (90.1-100.0)</text><text x="18.8" y="657.4" class="td">MRD– to MRD+</text><text x="105" y="657.4" class="tdn" text-anchor="middle">25</text><text x="138.2" y="657.4" class="tdn" text-anchor="middle">4</text><text x="200.3" y="657.4" class="tdn" text-anchor="middle">4.9 (2.9-8.8)</text><text x="288.8" y="657.4" class="tdn" text-anchor="middle">NR (7.9-NR)</text><text x="377.7" y="657.4" class="tdn" text-anchor="middle">59.8 (35.4-100.0)</text><text x="18.8" y="670.1" class="td">MRD+ to MRD–</text><text x="105" y="670.1" class="tdn" text-anchor="middle">28</text><text x="138.2" y="670.1" class="tdn" text-anchor="middle">2</text><text x="200.3" y="670.1" class="tdn" text-anchor="middle">5.0 (3.6-7.9)</text><text x="288.8" y="670.1" class="tdn" text-anchor="middle">NR (NR-NR)</text><text x="377.7" y="670.1" class="tdn" text-anchor="middle">89.7 (76.8-100.0)</text><text x="18.8" y="682.8" class="td">MRD+ to MRD+</text><text x="105" y="682.8" class="tdn" text-anchor="middle">96</text><text x="138.2" y="682.8" class="tdn" text-anchor="middle">23</text><text x="200.3" y="682.8" class="tdn" text-anchor="middle">6.5 (4.2-8.1)</text><text x="288.8" y="682.8" class="tdn" text-anchor="middle">NR (10.0-NR)</text><text x="377.7" y="682.8" class="tdn" text-anchor="middle">60.3 (47.0-77.3)</text><text x="451" y="646.4" class="tdn" text-anchor="middle">2.52×10<tspan dy="-3" font-size="5.5px">−10</tspan></text><text x="451" y="656.6" class="tdn" text-anchor="middle">(0-inf)*</text><text x="451" y="671.8" class="tdn" text-anchor="middle">1.99</text><text x="451" y="682.0" class="tdn" text-anchor="middle">(0.42-9.43)</text><text x="498.7" y="650.8" class="tdn" text-anchor="middle">&lt; .001</text><text x="498.7" y="676.2" class="tdn" text-anchor="middle">.376</text>
</svg>
</body></html>
